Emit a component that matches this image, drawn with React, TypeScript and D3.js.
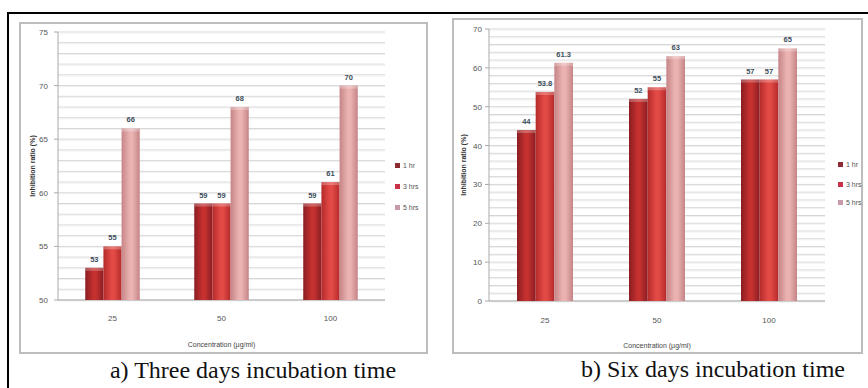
import React from "react";
import * as d3 from "d3";

const categories = ["25", "50", "100"];
const seriesNames = ["1 hr", "3 hrs", "5 hrs"];
const threeDays1hr = [53, 59, 59];
const threeDays3hrs = [55, 59, 61];
const threeDays5hrs = [66, 68, 70];
const sixDays1hr = [44, 52, 57];
const sixDays3hrs = [53.8, 55, 57];
const sixDays5hrs = [61.3, 63, 65];
const threeDaysTicks = [50, 55, 60, 65, 70, 75];
const sixDaysTicks = [0, 10, 20, 30, 40, 50, 60, 70];
const captionA = "a) Three days incubation time";
const captionB = "b) Six days incubation time";
const yTitle = "Inhibition ratio (%)";
const xTitle = "Concentration (µg/ml)";

const grads = [
  { id: "g0", edge: "#8a1d22", mid: "#c4312f" },
  { id: "g1", edge: "#b42a2b", mid: "#e24a45" },
  { id: "g2", edge: "#c68486", mid: "#eab3b2" },
];
const legendColors = ["#8e2a34", "#c9314a", "#c79aaa"];

type PanelProps = {
  frame: [number, number, number, number];
  x0: number; x1: number; yTop: number; yBot: number;
  domain: [number, number]; ticks: number[]; minorStep: number;
  series: number[][];
  labelX: number; titleX: number; titleY: number;
  xLabelY: number; xTitleY: number;
  legendX: number; legendY: number[];
  fmt: (v: number) => string;
};

function Panel(p: PanelProps) {
  const y = d3.scaleLinear().domain(p.domain).range([p.yBot, p.yTop]);
  const xb = d3.scaleBand<string>().domain(categories).range([p.x0, p.x1]).paddingInner(0.5).paddingOuter(0.25);
  const xs = d3.scaleBand<string>().domain(seriesNames).range([0, xb.bandwidth()]).padding(0);
  const minor = d3.range(p.domain[0], p.domain[1] + 0.001, p.minorStep);
  const [fx, fy, fw, fh] = p.frame;
  return (
    <g>
      <rect x={fx} y={fy} width={fw} height={fh} fill="#fff" stroke="#bdbdbd" strokeWidth={2} />
      {minor.map((v, i) => (
        <g key={"m" + i}>
          <line x1={p.x0} x2={p.x1} y1={y(v)} y2={y(v)} stroke="#d6d6d6" strokeWidth={1} />
          <line x1={p.x0} x2={p.x1} y1={y(v) + 1} y2={y(v) + 1} stroke="#f0f0f0" strokeWidth={1} />
        </g>
      ))}
      {p.ticks.map((v) => (
        <g key={"t" + v}>
          <line x1={p.x0 - 4} x2={p.x0} y1={y(v)} y2={y(v)} stroke="#aaa" />
          <text x={p.labelX} y={y(v) + 3} fontSize={8} fill="#555" textAnchor="end" fontFamily="Liberation Sans, Arial, sans-serif">{v}</text>
        </g>
      ))}
      <line x1={p.x0} x2={p.x0} y1={p.yTop} y2={p.yBot} stroke="#aaa" />
      <line x1={p.x0} x2={p.x1} y1={p.yBot} y2={p.yBot} stroke="#aaa" />
      {categories.map((c, ci) => (
        <g key={c}>
          {seriesNames.map((s, si) => {
            const v = p.series[si][ci];
            const bx = (xb(c) as number) + (xs(s) as number);
            const bw = xs.bandwidth();
            return (
              <g key={s}>
                <rect x={bx} y={y(v)} width={bw} height={p.yBot - y(v)} fill={`url(#${grads[si].id})`} />
                <rect x={bx} y={y(v)} width={bw} height={3} fill="#fff" opacity={0.25} />
                <text x={bx + bw / 2} y={y(v) - 6} fontSize={7.5} fontWeight="bold" fill="#3b4d5a" textAnchor="middle" fontFamily="Liberation Sans, Arial, sans-serif">{p.fmt(v)}</text>
              </g>
            );
          })}
          <text x={(xb(c) as number) + xb.bandwidth() / 2} y={p.xLabelY} fontSize={8} fill="#555" textAnchor="middle" fontFamily="Liberation Sans, Arial, sans-serif">{c}</text>
        </g>
      ))}
      <text x={(p.x0 + p.x1) / 2} y={p.xTitleY} fontSize={7} fill="#444" textAnchor="middle" fontFamily="Liberation Sans, Arial, sans-serif">{xTitle}</text>
      <text transform={`translate(${p.titleX},${p.titleY}) rotate(-90)`} fontSize={7} fontWeight="bold" fill="#333" textAnchor="middle" fontFamily="Liberation Sans, Arial, sans-serif">{yTitle}</text>
      {seriesNames.map((s, i) => (
        <g key={"l" + s}>
          <rect x={p.legendX} y={p.legendY[i] - 3} width={5} height={5} fill={legendColors[i]} />
          <text x={p.legendX + 8} y={p.legendY[i] + 2} fontSize={7} fill="#555" fontFamily="Liberation Sans, Arial, sans-serif">{s}</text>
        </g>
      ))}
    </g>
  );
}

export default function App() {
  return (
    <svg width={868} height={388} style={{ position: "absolute", left: 0, top: 0, background: "#fff" }}>
      <defs>
        {grads.map((g) => (
          <linearGradient key={g.id} id={g.id} x1="0" x2="1" y1="0" y2="0">
            <stop offset="0" stopColor={g.edge} />
            <stop offset="0.45" stopColor={g.mid} />
            <stop offset="0.6" stopColor={g.mid} />
            <stop offset="1" stopColor={g.edge} />
          </linearGradient>
        ))}
      </defs>
      <rect x={0} y={0} width={868} height={388} fill="#fff" />
      <line x1={7} x2={868} y1={13} y2={13} stroke="#000" strokeWidth={2} />
      <line x1={8} x2={8} y1={12} y2={388} stroke="#000" strokeWidth={2} />
      <Panel
        frame={[20, 23, 407, 330]}
        x0={58} x1={385} yTop={32} yBot={300}
        domain={[50, 75]} ticks={threeDaysTicks} minorStep={1}
        series={[threeDays1hr, threeDays3hrs, threeDays5hrs]}
        labelX={48} titleX={35} titleY={166}
        xLabelY={321} xTitleY={347}
        legendX={395} legendY={166 + 0 > 0 ? [166, 187, 208] : [166, 187, 208]}
        fmt={(v) => String(v)}
      />
      <Panel
        frame={[453, 19, 409, 334]}
        x0={489} x1={825} yTop={29} yBot={301}
        domain={[0, 70]} ticks={sixDaysTicks} minorStep={2}
        series={[sixDays1hr, sixDays3hrs, sixDays5hrs]}
        labelX={482} titleX={466} titleY={165}
        xLabelY={323} xTitleY={348}
        legendX={838} legendY={[165, 185, 203]}
        fmt={(v) => String(v)}
      />
      <text x={253} y={378} fontSize={24} textAnchor="middle" fontFamily="Liberation Serif, Times New Roman, serif" fill="#111">{captionA}</text>
      <text x={713} y={377} fontSize={24} textAnchor="middle" fontFamily="Liberation Serif, Times New Roman, serif" fill="#111">{captionB}</text>
    </svg>
  );
}
